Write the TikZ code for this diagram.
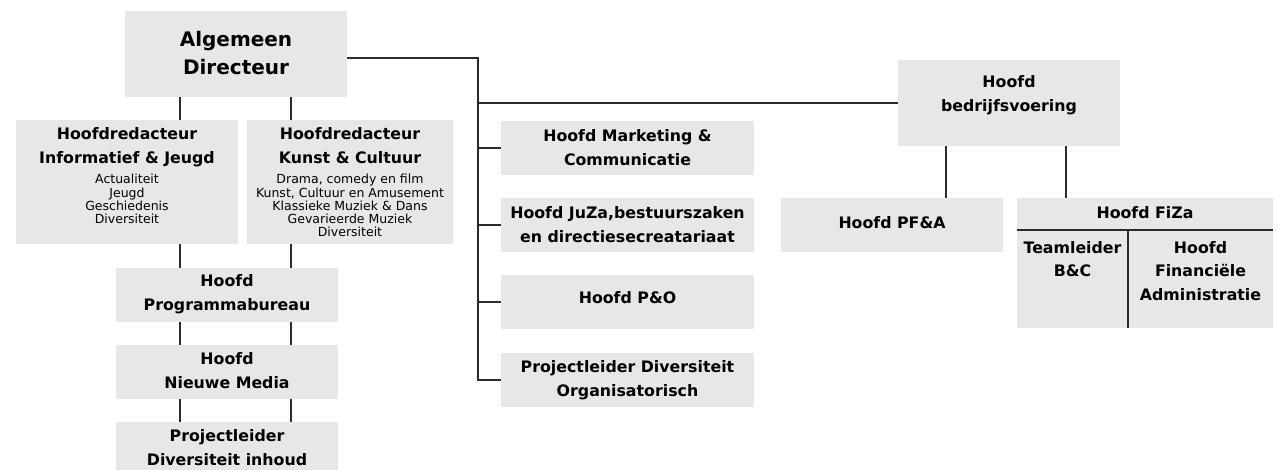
\documentclass[tikz,border=0pt]{standalone}
\usepackage{fontspec}
\setmainfont{DejaVu Sans}
\definecolor{boxgrey}{HTML}{E6E7E8}
\definecolor{linegrey}{HTML}{2B2B2B}
\begin{document}
\begin{tikzpicture}[x=1pt,y=-1pt,
  box/.style={fill=boxgrey, inner sep=0pt, outer sep=0pt},
  ttl/.style={inner sep=0pt, align=center, font=\bfseries\fontsize{15.8}{24}\selectfont},
  big/.style={inner sep=0pt, align=center, font=\bfseries\fontsize{20}{28}\selectfont},
  small/.style={inner sep=0pt, align=center, font=\fontsize{12.5}{13.3}\selectfont},
  conn/.style={draw=linegrey, line width=1.3pt}]
\useasboundingbox (0,0) rectangle (1277,469);

% ---------- left column ----------
\node[box, minimum width=222pt, minimum height=86pt] (AD) at (236,54) {};
\node[big] (ADt) at (236,53) {Algemeen\\Directeur};

\node[box, minimum width=222pt, minimum height=124pt] (HI) at (127,182) {};
\node[ttl, anchor=north] (HIt) at (127,127) {Hoofdredacteur\\Informatief \& Jeugd};
\node[small, anchor=north] (HIs) at (127,174) {Actualiteit\\Jeugd\\Geschiedenis\\Diversiteit};

\node[box, minimum width=206pt, minimum height=124pt] (HK) at (350,182) {};
\node[ttl, anchor=north] (HKt) at (350,127) {Hoofdredacteur\\Kunst \& Cultuur};
\node[small, anchor=north] (HKs) at (350,174) {Drama, comedy en film\\Kunst, Cultuur en Amusement\\Klassieke Muziek \& Dans\\Gevarieerde Muziek\\Diversiteit};

\node[box, minimum width=222pt, minimum height=54pt] (PB) at (227,295) {};
\node[ttl] (PBt) at (227,294) {Hoofd\\Programmabureau};
\node[box, minimum width=222pt, minimum height=54pt] (NM) at (227,372) {};
\node[ttl] (NMt) at (227,371) {Hoofd\\Nieuwe Media};
\node[box, minimum width=222pt, minimum height=54pt] (PL) at (227,449) {};
\node[ttl] (PLt) at (227,448) {Projectleider\\Diversiteit inhoud};

% ---------- middle column ----------
\node[box, minimum width=253pt, minimum height=54pt] (MK) at (627.5,148) {};
\node[ttl] (MKt) at (627.5,148) {Hoofd Marketing \&\\Communicatie};
\node[box, minimum width=253pt, minimum height=54pt] (JZ) at (627.5,225) {};
\node[ttl] (JZt) at (627.5,225) {Hoofd JuZa,bestuurszaken\\en directiesecreatariaat};
\node[box, minimum width=253pt, minimum height=54pt] (PO) at (627.5,302) {};
\node[ttl] (POt) at (627.5,298) {Hoofd P\&O};
\node[box, minimum width=253pt, minimum height=54pt] (PD) at (627.5,380) {};
\node[ttl] (PDt) at (627.5,380) {Projectleider Diversiteit\\Organisatorisch};

% ---------- right part ----------
\node[box, minimum width=222pt, minimum height=86pt] (HB) at (1009,103) {};
\node[ttl] (HBt) at (1009,95) {Hoofd\\bedrijfsvoering};

\node[box, minimum width=222pt, minimum height=54pt] (PF) at (892,225) {};
\node[ttl] (PFt) at (892,223) {Hoofd PF\&A};

\node[box, minimum width=256pt, minimum height=130pt] (FZ) at (1145,263) {};
\node[ttl] (FZt) at (1145,213) {Hoofd FiZa};
\coordinate (fzL) at (1017,230);
\coordinate (fzR) at (1273,230);
\coordinate (fzD) at (1128,230);
\node[ttl, anchor=north, font=\bfseries\fontsize{15.8}{23.5}\selectfont] (TLt) at (1072.5,241) {Teamleider\\B\&C};
\node[ttl, anchor=north, font=\bfseries\fontsize{15.8}{23.5}\selectfont] (HFt) at (1200.5,241) {Hoofd\\Financiële\\Administratie};

% ---------- connectors ----------
\coordinate (xa) at (180,0);
\coordinate (xb) at (291,0);
\draw[conn] (AD.south -| xa) -- (HI.north -| xa);
\draw[conn] (AD.south -| xb) -- (HK.north -| xb);
\draw[conn] (HI.south -| xa) -- (PB.north -| xa);
\draw[conn] (HK.south -| xb) -- (PB.north -| xb);
\draw[conn] (PB.south -| xa) -- (NM.north -| xa);
\draw[conn] (PB.south -| xb) -- (NM.north -| xb);
\draw[conn] (NM.south -| xa) -- (PL.north -| xa);
\draw[conn] (NM.south -| xb) -- (PL.north -| xb);

\coordinate (busTop) at (478,58);
\draw[conn] (AD.east |- busTop) -- (busTop) -- (busTop |- PD.west) -- (PD.west);
\draw[conn] (busTop |- HB.west) -- (HB.west);
\draw[conn] (busTop |- MK.west) -- (MK.west);
\draw[conn] (busTop |- JZ.west) -- (JZ.west);
\draw[conn] (busTop |- PO.west) -- (PO.west);

\coordinate (xc) at (946,0);
\coordinate (xd) at (1066,0);
\draw[conn] (HB.south -| xc) -- (PF.north -| xc);
\draw[conn] (HB.south -| xd) -- (FZ.north -| xd);

\draw[conn] (fzL) -- (fzR);
\draw[conn] (fzD) -- (FZ.south -| fzD);
\end{tikzpicture}
\end{document}
